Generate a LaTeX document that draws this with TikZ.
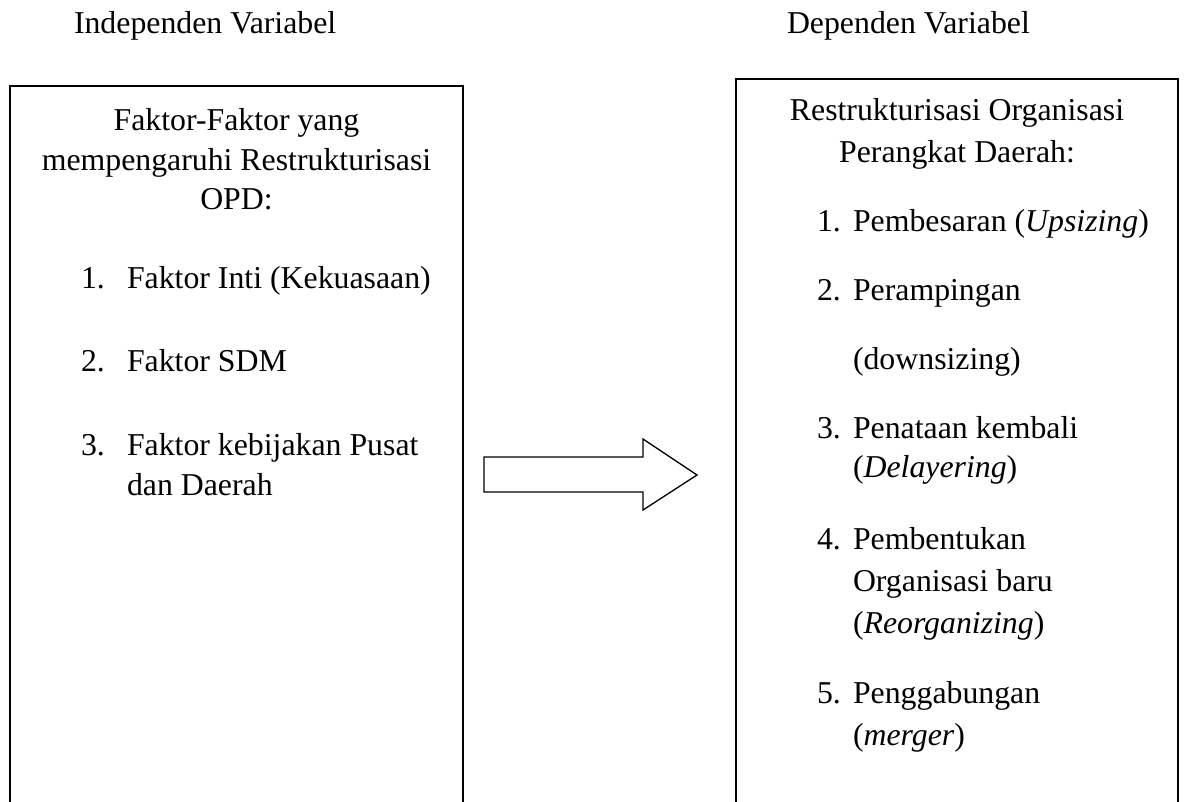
\documentclass[tikz,border=0pt]{standalone}
\usepackage{fontspec}
\setmainfont{Liberation Serif}
\begin{document}
\begin{tikzpicture}[x=1pt,y=-1pt,
  txt/.style={inner sep=0pt,outer sep=0pt,font=\fontsize{31.8}{38}\selectfont},
  ctr/.style={txt,anchor=base},
  lft/.style={txt,anchor=base west},
  boxline/.style={line width=1.6pt,line join=miter},
  blockarrow/.style={line width=1.3pt,line join=miter}]
\useasboundingbox[fill=white] (0,0) rectangle (1184,802);
% headings
\node[lft] (indep) at (74,34) {Independen Variabel};
\node[lft] (dep) at (787,34) {Dependen Variabel};
% boxes (open at the bottom)
\coordinate (lbl) at (10,805);
\coordinate (ltl) at (10,86);
\coordinate (ltr) at (463,86);
\coordinate (lbr) at (463,805);
\draw[boxline] (lbl) -- (ltl) -- (ltr) -- (lbr);
\coordinate (rbl) at (736,805);
\coordinate (rtl) at (736,79);
\coordinate (rtr) at (1178,79);
\coordinate (rbr) at (1178,805);
\draw[boxline] (rbl) -- (rtl) -- (rtr) -- (rbr);
% left box text
\node[ctr] (l1) at (236.5,131) {Faktor-Faktor yang};
\node[ctr] (l2) at (236.5,171) {mempengaruhi Restrukturisasi};
\node[ctr] (l3) at (236.5,210) {OPD:};
\node[lft] (ln1) at (81,289) {1.};
\node[lft] (li1) at (127,289) {Faktor Inti (Kekuasaan)};
\node[lft] (ln2) at (81,372) {2.};
\node[lft] (li2) at (127,372) {Faktor SDM};
\node[lft] (ln3) at (81,455) {3.};
\node[lft] (li3) at (127,455) {Faktor kebijakan Pusat};
\node[lft] (li3b) at (127,495) {dan Daerah};
% right box text
\node[ctr] (r1) at (957,121) {Restrukturisasi Organisasi};
\node[ctr] (r2) at (957,163) {Perangkat Daerah:};
\node[lft] (rn1) at (817,232) {1.};
\node[lft] (ri1) at (853,232) {Pembesaran (\textit{Upsizing})};
\node[lft] (rn2) at (817,301) {2.};
\node[lft] (ri2) at (853,301) {Perampingan};
\node[lft] (ri2b) at (853,370) {(downsizing)};
\node[lft] (rn3) at (817,438) {3.};
\node[lft] (ri3) at (853,438) {Penataan kembali};
\node[lft] (ri3b) at (853,477) {(\textit{Delayering})};
\node[lft] (rn4) at (817,549) {4.};
\node[lft] (ri4) at (853,549) {Pembentukan};
\node[lft] (ri4b) at (853,591) {Organisasi baru};
\node[lft] (ri4c) at (853,633) {(\textit{Reorganizing})};
\node[lft] (rn5) at (817,703) {5.};
\node[lft] (ri5) at (853,703) {Penggabungan};
\node[lft] (ri5b) at (853,745) {(\textit{merger})};
% block arrow
\coordinate (a1) at (484,457);
\coordinate (a2) at (643,457);
\coordinate (a3) at (643,439);
\coordinate (a4) at (697,475);
\coordinate (a5) at (643,510);
\coordinate (a6) at (643,492);
\coordinate (a7) at (484,492);
\draw[blockarrow] (a1) -- (a2) -- (a3) -- (a4) -- (a5) -- (a6) -- (a7) -- cycle;
\end{tikzpicture}
\end{document}
